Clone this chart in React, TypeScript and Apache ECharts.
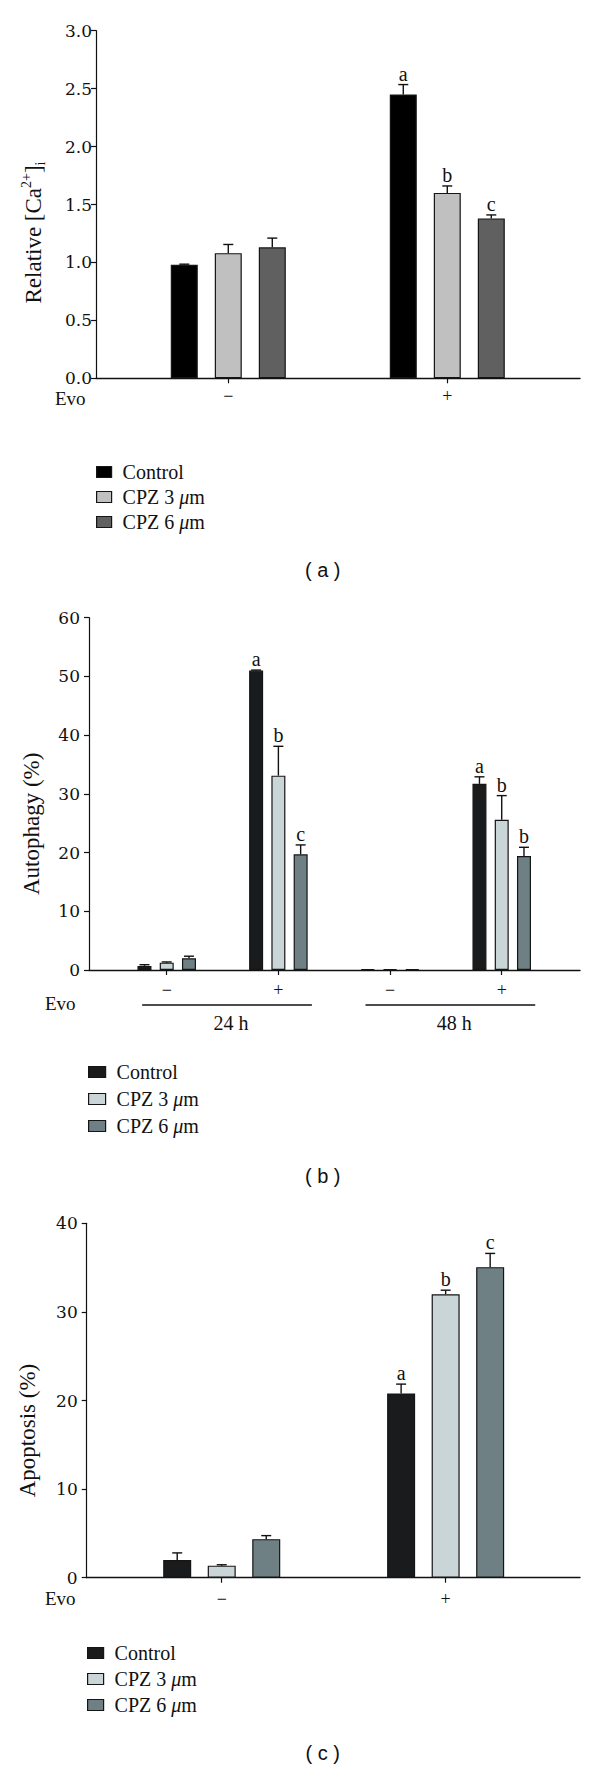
import React, { useEffect, useRef } from 'react';
import * as echarts from 'echarts';

// ---------- shared ----------
const SERIES_NAMES = ['Control', 'CPZ 3 μm', 'CPZ 6 μm'];
const EVO_LABEL = 'Evo';

// ---------- panel (a): Relative [Ca2+]i ----------
const A_CATEGORIES = ['−', '+'];
const A_CONTROL = [0.98, 2.45];
const A_CONTROL_ERR = [0.005, 0.085];
const A_CPZ3 = [1.08, 1.6];
const A_CPZ3_ERR = [0.075, 0.06];
const A_CPZ6 = [1.13, 1.38];
const A_CPZ6_ERR = [0.08, 0.03];
const A_LETTERS = [['', 'a'], ['', 'b'], ['', 'c']];

// ---------- panel (b): Autophagy (%) ----------
const B_CATEGORIES = ['−', '+', '−', '+'];
const B_TIME_GROUPS = ['24 h', '48 h'];
const B_CONTROL = [0.7, 51.0, 0.15, 31.7];
const B_CONTROL_ERR = [0.2, 0.08, 0, 1.2];
const B_CPZ3 = [1.25, 33.1, 0.15, 25.6];
const B_CPZ3_ERR = [0.12, 5.0, 0, 4.1];
const B_CPZ6 = [2.0, 19.7, 0.15, 19.4];
const B_CPZ6_ERR = [0.35, 1.6, 0, 1.5];
const B_LETTERS = [['', 'a', '', 'a'], ['', 'b', '', 'b'], ['', 'c', '', 'b']];

// ---------- panel (c): Apoptosis (%) ----------
const C_CATEGORIES = ['−', '+'];
const C_CONTROL = [2.0, 20.8];
const C_CONTROL_ERR = [0.8, 1.05];
const C_CPZ3 = [1.36, 32.0];
const C_CPZ3_ERR = [0.1, 0.45];
const C_CPZ6 = [4.35, 35.05];
const C_CPZ6_ERR = [0.4, 1.55];
const C_LETTERS = [['', 'a'], ['', 'b'], ['', 'c']];

const SERIF = 'Liberation Serif';
const NUM_SERIF = 'DejaVu Serif';
const SANS = 'Liberation Sans';
const INK = '#111';

const COLORS_A = ['#000000', '#c0c0c0', '#606060'];
const COLORS_BC = ['#1a1b1d', '#c9d5d6', '#6f8085'];

type Panel = {
  cats: string[];
  values: number[][];
  errs: number[][];
  letters: string[][];
  colors: string[];
  grid: { left: number; top: number; width: number; height: number };
  xMin: number;
  xMax: number;
  yMin: number;
  yMax: number;
  yInterval: number;
  yDecimals: number;
  yName: string;
  yNameGap: number;
  yNameShift: number;
  yLabelMargin: number;
  xLabelMargin: number;
  barWidth: number;
  barGapPct: number;
  legend: { left: number; top: number; itemWidth: number; itemGap: number };
};

const panels: Panel[] = [
  {
    cats: A_CATEGORIES,
    values: [A_CONTROL, A_CPZ3, A_CPZ6],
    errs: [A_CONTROL_ERR, A_CPZ3_ERR, A_CPZ6_ERR],
    letters: A_LETTERS,
    colors: COLORS_A,
    grid: { left: 96, top: 30.7, width: 484, height: 347.6 },
    xMin: -0.604,
    xMax: 1.606,
    yMin: 0,
    yMax: 3,
    yInterval: 0.5,
    yDecimals: 1,
    yName: '{n|Relative [Ca}{sup|2+}{n|]}{sub|i}',
    yNameGap: 49,
    yNameShift: 56,
    yLabelMargin: 4,
    xLabelMargin: 9,
    barWidth: 27,
    barGapPct: 0.63,
    legend: { left: 96, top: 462, itemWidth: 15, itemGap: 5 },
  },
  {
    cats: B_CATEGORIES,
    values: [B_CONTROL, B_CPZ3, B_CPZ6],
    errs: [B_CONTROL_ERR, B_CPZ3_ERR, B_CPZ6_ERR],
    letters: B_LETTERS,
    colors: COLORS_BC,
    grid: { left: 89, top: 617.7, width: 491, height: 352.3 },
    xMin: -0.696,
    xMax: 3.701,
    yMin: 0,
    yMax: 60,
    yInterval: 10,
    yDecimals: 0,
    yName: '{n|Autophagy (%)}',
    yNameGap: 44,
    yNameShift: 60,
    yLabelMargin: 9,
    xLabelMargin: 11,
    barWidth: 14,
    barGapPct: 0.59,
    legend: { left: 88, top: 1062, itemWidth: 17, itemGap: 7 },
  },
  {
    cats: C_CATEGORIES,
    values: [C_CONTROL, C_CPZ3, C_CPZ6],
    errs: [C_CONTROL_ERR, C_CPZ3_ERR, C_CPZ6_ERR],
    letters: C_LETTERS,
    colors: COLORS_BC,
    grid: { left: 86.7, top: 1223.3, width: 493.3, height: 354.4 },
    xMin: -0.603,
    xMax: 1.6,
    yMin: 0,
    yMax: 40,
    yInterval: 10,
    yDecimals: 0,
    yName: '{n|Apoptosis (%)}',
    yNameGap: 45,
    yNameShift: 60,
    yLabelMargin: 9,
    xLabelMargin: 12,
    barWidth: 28,
    barGapPct: 0.59,
    legend: { left: 87, top: 1643, itemWidth: 16, itemGap: 6 },
  },
];

const EVO_POS = [
  { x: 55, y: 398 },
  { x: 45, y: 1003 },
  { x: 45, y: 1598 },
];
const PANEL_TAGS = [
  { text: '( a )', y: 570 },
  { text: '( b )', y: 1176 },
  { text: '( c )', y: 1753 },
];
// data-space extent of the time-group underline in panel (b)
const B_GROUP_SPANS = [
  [-0.22, 1.3],
  [1.78, 3.3],
];

const serifTok = (size: number, extra: any = {}) => ({ fontFamily: SERIF, fontSize: size, color: INK, ...extra });

function buildOption() {
  const grid: any[] = [];
  const xAxis: any[] = [];
  const yAxis: any[] = [];
  const series: any[] = [];
  const legend: any[] = [];

  panels.forEach((p, pi) => {
    grid.push({ ...p.grid, containLabel: false });
    const tickVals = p.cats.map((_, i) => i);
    xAxis.push({
      type: 'value',
      gridIndex: pi,
      min: p.xMin,
      max: p.xMax,
      axisLine: { show: true, onZero: false, lineStyle: { color: INK, width: 1.3 } },
      axisTick: { show: true, customValues: tickVals, length: 5, lineStyle: { color: INK, width: 1.2 } },
      axisLabel: {
        show: true,
        customValues: tickVals,
        formatter: (v: number) => `{t|${p.cats[Math.round(v)] ?? ''}}`,
        margin: p.xLabelMargin,
        fontFamily: SERIF,
        fontSize: 18,
        color: INK,
        rich: { t: serifTok(18) },
      },
      splitLine: { show: false },
    });
    yAxis.push({
      type: 'value',
      gridIndex: pi,
      min: p.yMin,
      max: p.yMax,
      interval: p.yInterval,
      axisLine: { show: true, onZero: false, lineStyle: { color: INK, width: 1.2 } },
      axisTick: { show: true, length: 5, lineStyle: { color: INK, width: 1.2 } },
      axisLabel: {
        margin: p.yLabelMargin,
        fontFamily: NUM_SERIF,
        fontSize: 17,
        lineHeight: 17,
        color: INK,
        formatter: (v: number) => `{t|${v.toFixed(p.yDecimals)}}`,
        rich: { t: { fontFamily: NUM_SERIF, fontSize: 17, lineHeight: 17, color: INK } },
      },
      splitLine: { show: false },
      name: p.yName,
      nameLocation: 'middle',
      nameRotate: 90,
      nameGap: p.yNameGap,
      nameTextStyle: {
        fontFamily: SERIF,
        fontSize: 23,
        color: INK,
        lineHeight: 28,
        padding: [0, p.yNameShift, 0, 0],
        rich: {
          n: serifTok(23, { lineHeight: 28 }),
          sup: serifTok(14, { verticalAlign: 'top', lineHeight: 28 }),
          sub: serifTok(14, { verticalAlign: 'bottom', lineHeight: 28 }),
        },
      },
    });

    const spacing = p.barWidth * (1 + p.barGapPct);
    p.values.forEach((vals, si) => {
      series.push({
        type: 'bar',
        name: SERIES_NAMES[si],
        xAxisIndex: pi,
        yAxisIndex: pi,
        barWidth: p.barWidth,
        barGap: `${Math.round(p.barGapPct * 100)}%`,
        data: vals.map((v, i) => [i, v]),
        itemStyle: { color: p.colors[si], borderColor: '#151515', borderWidth: 1.2 },
        z: 2,
      });
    });
    p.values.forEach((vals, si) => {
      const offset = (si - 1) * spacing;
      const letters = p.letters[si];
      const errs = p.errs[si];
      series.push({
        type: 'custom',
        name: SERIES_NAMES[si] + ' err',
        xAxisIndex: pi,
        yAxisIndex: pi,
        z: 5,
        clip: false,
        encode: { x: 0, y: 1 },
        data: vals.map((v, i) => [i, v, errs[i]]),
        renderItem: (params: any, api: any) => {
          const x = api.value(0);
          const v = api.value(1);
          const e = api.value(2);
          const base = api.coord([x, v]);
          const top = api.coord([x, v + e]);
          const cx = base[0] + offset;
          const children: any[] = [];
          if (e > 0) {
            children.push({
              type: 'line',
              shape: { x1: cx, y1: base[1], x2: cx, y2: top[1] },
              style: { stroke: INK, lineWidth: 1.4 },
            });
            children.push({
              type: 'line',
              shape: { x1: cx - 5, y1: top[1], x2: cx + 5, y2: top[1] },
              style: { stroke: INK, lineWidth: 1.4 },
            });
          }
          const letter = letters[params.dataIndex];
          if (letter) {
            children.push({
              type: 'text',
              style: {
                text: letter,
                x: cx,
                y: top[1] - 1,
                align: 'center',
                verticalAlign: 'bottom',
                fontSize: 20,
                fontFamily: SERIF,
                fill: INK,
              },
            });
          }
          return { type: 'group', children };
        },
      });
    });

    legend.push({
      orient: 'vertical',
      left: p.legend.left,
      top: p.legend.top,
      padding: 0,
      itemWidth: p.legend.itemWidth,
      itemHeight: 11,
      itemGap: p.legend.itemGap,
      icon: 'rect',
      selectedMode: false,
      data: SERIES_NAMES.map((n, i) => ({
        name: n,
        itemStyle: { color: p.colors[i], borderColor: '#151515', borderWidth: 1.2 },
      })),
      formatter: (name: string) => {
        const parts = name.split('μ');
        return parts.length > 1 ? `{n|${parts[0]}}{mu|μ}{n|${parts[1]}}` : `{n|${name}}`;
      },
      textStyle: {
        fontFamily: SERIF,
        fontSize: 20,
        color: INK,
        padding: [0, 0, 0, 6],
        rich: {
          n: serifTok(20),
          mu: serifTok(20, { fontStyle: 'italic' }),
        },
      },
    });
  });

  return {
    animation: false,
    backgroundColor: '#ffffff',
    textStyle: { fontFamily: SERIF },
    grid,
    xAxis,
    yAxis,
    series,
    legend,
  };
}

export default function App() {
  const ref = useRef<HTMLDivElement | null>(null);
  useEffect(() => {
    if (!ref.current) return;
    const chart = echarts.init(ref.current, undefined, { renderer: 'svg' });
    chart.setOption(buildOption() as any);

    const graphic: any[] = [];
    EVO_POS.forEach((pos) => {
      graphic.push({
        type: 'text',
        x: pos.x,
        y: pos.y,
        style: {
          text: EVO_LABEL,
          fontFamily: SERIF,
          fontSize: 19,
          lineHeight: 19,
          fill: INK,
          align: 'left',
          verticalAlign: 'middle',
        },
      });
    });
    PANEL_TAGS.forEach((t) => {
      graphic.push({
        type: 'text',
        x: 322.7,
        y: t.y,
        style: {
          text: t.text,
          fontFamily: SANS,
          fontSize: 20,
          fill: INK,
          align: 'center',
          verticalAlign: 'middle',
        },
      });
    });
    // time-group underlines and labels of panel (b), placed through the axis scale
    B_GROUP_SPANS.forEach((span, gi) => {
      const p0 = chart.convertToPixel({ xAxisIndex: 1, yAxisIndex: 1 }, [span[0], 0]) as number[];
      const p1 = chart.convertToPixel({ xAxisIndex: 1, yAxisIndex: 1 }, [span[1], 0]) as number[];
      const lineY = p0[1] + 35;
      graphic.push({
        type: 'line',
        shape: { x1: p0[0], y1: lineY, x2: p1[0], y2: lineY },
        style: { stroke: INK, lineWidth: 1.3 },
      });
      graphic.push({
        type: 'text',
        x: (p0[0] + p1[0]) / 2 + 4,
        y: lineY + 18,
        style: {
          text: B_TIME_GROUPS[gi],
          fontFamily: SERIF,
          fontSize: 20,
          fill: INK,
          align: 'center',
          verticalAlign: 'middle',
        },
      });
    });
    chart.setOption({ graphic } as any);

    return () => chart.dispose();
  }, []);

  return (
    <div
      ref={ref}
      style={{ position: 'absolute', left: 0, top: 0, width: 600, height: 1769, background: '#fff' }}
    />
  );
}
